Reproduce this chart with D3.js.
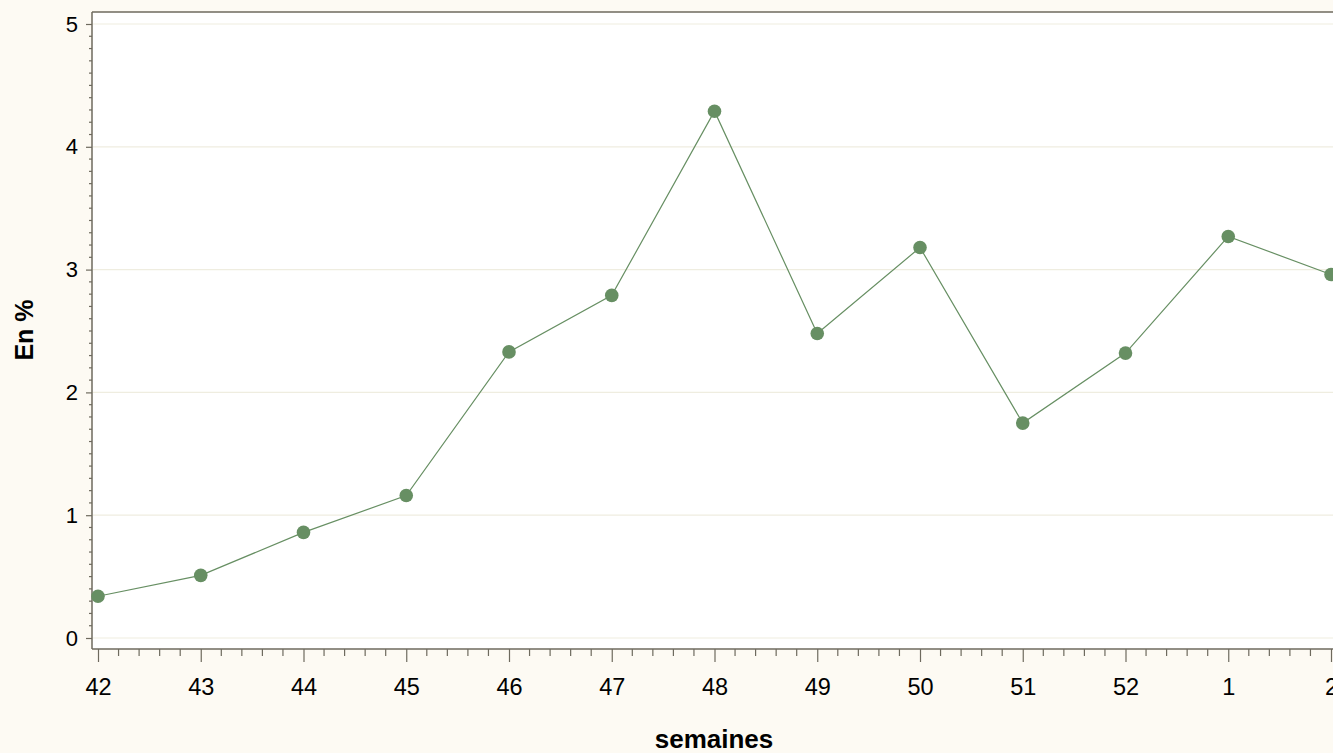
<!DOCTYPE html>
<html><head><meta charset="utf-8">
<script src="https://cdn.jsdelivr.net/npm/d3@7"></script>
<style>
html,body{margin:0;padding:0;background:#FDFAF3;overflow:hidden;}
svg{display:block;font-family:"Liberation Sans",Arial,sans-serif;}
</style></head><body>
<svg id="c" width="1333" height="753"></svg>
<script>
const weeks = ["42","43","44","45","46","47","48","49","50","51","52","1","2"];
const values = [0.34,0.51,0.86,1.16,2.33,2.79,4.29,2.48,3.18,1.75,2.32,3.27,2.96];
const yTicks = [0,1,2,3,4,5];
const xTitle = "semaines";
const yTitle = "En %";

(function(){
const svg = d3.select("#c");
const W = 1333, H = 753;
const pLeft = 92, pTop = 12, pBottom = 649;
const x = d3.scaleLinear().domain([0, weeks.length-1]).range([98, 98 + 102.75*(weeks.length-1)]);
const y = d3.scaleLinear().domain([0,5]).range([638, 24]);

svg.append("rect").attr("x",pLeft).attr("y",pTop).attr("width",W-pLeft+10).attr("height",pBottom-pTop).attr("fill","#fff");

svg.append("g").selectAll("line").data(yTicks).join("line")
  .attr("x1",pLeft+1).attr("x2",W).attr("y1",d=>y(d)).attr("y2",d=>y(d))
  .attr("stroke","#EFEDE0").attr("stroke-width",1.2);

const frame = "#6E6A5E";
svg.append("line").attr("x1",pLeft).attr("x2",W).attr("y1",pTop).attr("y2",pTop).attr("stroke",frame).attr("stroke-width",1.5);

// y axis
const yAxis = d3.axisLeft(y).tickValues(yTicks).tickSize(6).tickPadding(8).tickFormat(d3.format("d"));
const gy = svg.append("g").attr("transform",`translate(${pLeft},0)`);
const yMinor = d3.range(0,51).map(d=>d/10).filter(d=>Math.abs(d-Math.round(d))>1e-6);
gy.selectAll("line.minor").data(yMinor).join("line").attr("class","minor")
  .attr("x1",-3).attr("x2",0).attr("y1",d=>y(d)).attr("y2",d=>y(d)).attr("stroke",frame).attr("stroke-width",1.2);
gy.call(yAxis);
gy.select(".domain").attr("d",`M0,${pTop}V${pBottom}`).attr("stroke",frame).attr("stroke-width",1.5);
gy.selectAll(".tick line").attr("stroke",frame).attr("stroke-width",1.2);
gy.selectAll(".tick text").attr("font-size",22).attr("fill","#000").attr("font-family","Liberation Sans, Arial, sans-serif");

// x axis
const xAxis = d3.axisBottom(x).tickValues(d3.range(weeks.length)).tickSize(13).tickPadding(16).tickFormat(i=>weeks[i]);
const gx = svg.append("g").attr("transform",`translate(0,${pBottom})`);
const xMinor = [];
for(let i=0;i<weeks.length;i++){ for(let k=1;k<5;k++){ xMinor.push(i+k/5); } }
gx.selectAll("line.minor").data(xMinor).join("line").attr("class","minor")
  .attr("x1",d=>x(d)).attr("x2",d=>x(d)).attr("y1",0).attr("y2",7).attr("stroke",frame).attr("stroke-width",1.2);
gx.call(xAxis);
gx.select(".domain").attr("d",`M${pLeft},0H${W}`).attr("stroke",frame).attr("stroke-width",1.5);
gx.selectAll(".tick line").attr("stroke",frame).attr("stroke-width",1.2);
gx.selectAll(".tick text").attr("font-size",23.5).attr("fill","#000").attr("font-family","Liberation Sans, Arial, sans-serif");

// line + markers
const col = "#678F63";
svg.append("path").datum(values)
  .attr("d", d3.line().x((d,i)=>x(i)).y(d=>y(d)))
  .attr("fill","none").attr("stroke",col).attr("stroke-width",1.2);
svg.append("g").selectAll("circle").data(values).join("circle")
  .attr("cx",(d,i)=>x(i)).attr("cy",d=>y(d)).attr("r",6.8).attr("fill",col);

// titles
svg.append("text").attr("x",714).attr("y",748).attr("text-anchor","middle")
  .attr("font-size",26).attr("font-weight","bold").attr("fill","#000").text(xTitle);
svg.append("text").attr("transform",`translate(33,330) rotate(-90)`).attr("text-anchor","middle")
  .attr("font-size",25).attr("font-weight","bold").attr("fill","#000").text(yTitle);
})();
</script>
</body></html>
